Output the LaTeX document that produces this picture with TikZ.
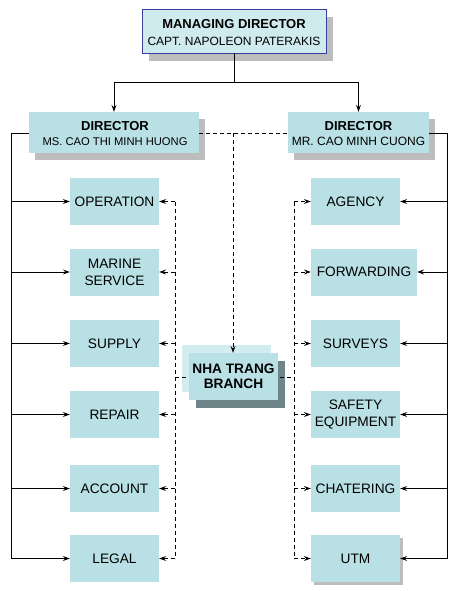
\documentclass[tikz,border=0pt]{standalone}
\usepackage{fontspec}
\setmainfont{Liberation Sans}
\usetikzlibrary{arrows.meta,shadows,backgrounds}
\definecolor{deptfill}{HTML}{B9E0E4}
\definecolor{mdfill}{HTML}{D0EBEE}
\definecolor{mdborder}{HTML}{3C3C9C}
\definecolor{shadowgray}{HTML}{BDBDBD}
\definecolor{palefill}{HTML}{D3ECEF}
\definecolor{darkshadow}{HTML}{6E868A}
\tikzset{
  txt/.style={font=\fontsize{13.7}{17}\selectfont, align=center, text=black},
  dept/.style={txt, rectangle, fill=deptfill, minimum width=89pt, minimum height=47pt, inner sep=0pt},
  dirbox/.style={txt, rectangle, fill=deptfill, minimum height=41pt, inner sep=0pt,
    drop shadow={shadow xshift=6pt, shadow yshift=-7pt, fill=shadowgray, opacity=1}},
  mdbox/.style={txt, rectangle, fill=mdfill, draw=mdborder, line width=0.8pt, minimum width=184pt, minimum height=44pt, inner sep=0pt,
    drop shadow={shadow xshift=7pt, shadow yshift=-8pt, fill=shadowgray, opacity=1}},
  conn/.style={line width=0.8pt, black},
  dconn/.style={line width=0.8pt, black, dash pattern=on 4pt off 3pt},
  arr/.style={-{Stealth[length=7pt,width=5pt,inset=2.5pt]}},
}
\newcommand{\ttl}[1]{\textbf{\fontsize{13}{15}\selectfont #1}}
\begin{document}
\begin{tikzpicture}[x=1pt,y=-1pt]
\useasboundingbox (0,0) rectangle (456,591);
% managing director
\node[mdbox] (md) at (234,31) {};
\node[txt, font=\fontsize{12}{17}\selectfont] (mdtext) at (234,32.5) {\ttl{MANAGING DIRECTOR}\\CAPT. NAPOLEON PATERAKIS};
% directors
\node[dirbox, minimum width=170pt] (ld) at (114,132.5) {};
\node[txt, font=\fontsize{11.2}{15}\selectfont] (ldtext) at (115,134) {\ttl{DIRECTOR}\\MS. CAO THI MINH HUONG};
\node[dirbox, minimum width=141pt] (rd) at (358.5,132.5) {};
\node[txt, font=\fontsize{12}{15}\selectfont] (rdtext) at (358.5,134) {\ttl{DIRECTOR}\\MR. CAO MINH CUONG};
% left departments
\node[dept] (op) at (114.5,201.5) {OPERATION};
\node[dept] (ms) at (114.5,272) {MARINE\\SERVICE};
\node[dept] (su) at (114.5,343.5) {SUPPLY};
\node[dept] (re) at (114.5,414.5) {REPAIR};
\node[dept] (ac) at (114.5,488.5) {ACCOUNT};
\node[dept] (le) at (114.5,558.5) {LEGAL};
% right departments
\node[dept] (ag) at (355.5,201.5) {AGENCY};
\node[dept, minimum width=106pt] (fw) at (364,272) {FORWARDING};
\node[dept] (sv) at (355.5,343.5) {SURVEYS};
\node[dept] (se) at (355.5,414.5) {SAFETY\\EQUIPMENT};
\node[dept] (ch) at (355.5,488.5) {CHATERING};
\node[dept, drop shadow={shadow xshift=2.5pt, shadow yshift=-2.5pt, fill=shadowgray, opacity=1}] (ut) at (355.5,558.5) {UTM};
% branch
\node[dept, font=\bfseries\fontsize{13.7}{15.5}\selectfont] (nt) at (233.5,376.5) {NHA TRANG\\BRANCH};
% coordinates for buses
\coordinate (mdj) at (234,82);
\coordinate (lbus) at (11,133);
\coordinate (rbus) at (447,133);
\coordinate (dj) at (233,133);
\coordinate (ldash) at (175,377);
\coordinate (rdash) at (294,377);
\begin{pgfonlayer}{background}
  \fill[palefill] ([xshift=-7pt,yshift=8pt]nt.north west) rectangle ([xshift=-7pt,yshift=8pt]nt.south east);
  \fill[darkshadow] ([xshift=7pt,yshift=-8pt]nt.north west) rectangle ([xshift=7pt,yshift=-8pt]nt.south east);
  \draw[dconn] (ldash) -- (rdash);
\end{pgfonlayer}
% MD to directors
\draw[conn] (md.south) -- (mdj);
\draw[conn] (ld.north |- mdj) -- (rd.north |- mdj);
\draw[conn,arr] (ld.north |- mdj) -- (ld.north);
\draw[conn,arr] (rd.north |- mdj) -- (rd.north);
% left bus
\draw[conn] (ld.west |- lbus) -- (lbus) -- (lbus |- le.west);
\foreach \n in {op,ms,su,re,ac,le} \draw[conn,arr] (lbus |- \n.west) -- (\n.west);
% right bus
\draw[conn] (rd.east |- rbus) -- (rbus) -- (rbus |- ut.east);
\foreach \n in {ag,fw,sv,se,ch,ut} \draw[conn,arr] (rbus |- \n.east) -- (\n.east);
% dashed links
\draw[dconn] (ld.east |- dj) -- (rd.west |- dj);
\draw[dconn,arr] (dj) -- (nt.north -| dj);
\draw[dconn] (ldash |- op.east) -- (ldash |- le.east);
\draw[dconn] (rdash |- ag.west) -- (rdash |- ut.west);
\foreach \n in {op,ms,su,re,ac,le} \draw[dconn,arr] (ldash |- \n.east) -- (\n.east);
\foreach \n in {ag,fw,sv,se,ch,ut} \draw[dconn,arr] (rdash |- \n.west) -- (\n.west);
\end{tikzpicture}
\end{document}
